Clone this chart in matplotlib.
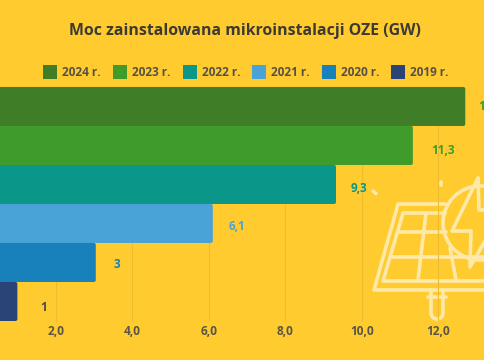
import matplotlib
matplotlib.use("Agg")
import matplotlib.pyplot as plt
from matplotlib.patches import FancyBboxPatch, Rectangle, Circle, Arc
from matplotlib.transforms import Affine2D

years = ["2024 r.", "2023 r.", "2022 r.", "2021 r.", "2020 r.", "2019 r."]
values = [12.7, 11.33, 9.32, 6.1, 3.04, 0.99]
value_labels = ["12,7", "11,3", "9,3", "6,1", "3", "1"]
colors = ["#3f7d26", "#3f9c2b", "#0a9688", "#4aa3d6", "#1880bb", "#2a4478"]
label_colors = ["#3f9c2b", "#3f9c2b", "#0a9688", "#4aa3d6", "#1880bb", "#4a4a4a"]
xticks = [2, 4, 6, 8, 10, 12]
xticklabels = ["2,0", "4,0", "6,0", "8,0", "10,0", "12,0"]

bg = "#ffcb2f"
plt.rcParams["font.family"] = ["Open Sans", "DejaVu Sans"]

fig = plt.figure(figsize=(4.85, 3.6), dpi=100, facecolor=bg)
ax = fig.add_axes([0, 0, 1, 1], facecolor="none")
ax.set_xlim(20.5 / 38.25, 505.5 / 38.25)
ax.set_ylim(6.5, -2.73)  # bar slots are 39 px high
for s in ax.spines.values():
    s.set_visible(False)
ax.tick_params(left=False, bottom=False, labelleft=False, labelbottom=False)

# pixel coords, y down, for the decoration
px = Affine2D().scale(1, -1).translate(0, 360)

# icon
ic = "#ffe9a8"
lw = 2.6
icon_lines = [
    [(445, 204), (398, 204), (374, 290), (485, 290)],
    [(445, 213), (403, 213), (383, 281), (485, 281)],
    [(398, 232), (446, 232)],
    [(392, 257), (485, 257)],
    [(426, 213), (418, 280)],
    [(450, 248), (456, 280)],
    [(478, 178), (452, 231), (471, 231), (470, 267), (485, 241)],
    [(478, 178), (479, 210), (485, 210)],
    [(431, 290), (431, 313)],
    [(443, 290), (443, 313)],
    [(428, 297), (446, 297)],
    [(441, 182), (441, 185)],
    [(373, 191), (376, 193.5)],
]
for pts in icon_lines:
    xs, ys = zip(*pts)
    ax.plot(xs, ys, color=ic, lw=lw, transform=px, solid_capstyle="round",
            solid_joinstyle="round", zorder=1)
ax.add_patch(Circle((480, 223), 37, fill=False, ec=ic, lw=lw, transform=px, zorder=1))
ax.add_patch(Arc((437, 313), 12, 12, theta1=0, theta2=180, ec=ic, lw=lw, transform=px, zorder=1))

ax.vlines(xticks, -0.5, 5.5, color="#edbd2f", lw=0.8, zorder=2)

for i, (v, c) in enumerate(zip(values, colors)):
    ax.add_patch(FancyBboxPatch((-2, i - 0.5), v + 2, 1, boxstyle="round,pad=0,rounding_size=0.05",
                                mutation_aspect=1, fc=c, ec="none", zorder=3))

# labels don't sit exactly on the bar centres in the original
gap_x = [13, 18, 15, 16, 18, 23]
gap_y = [0, 5, 4, 3, 2, 6]
for i, (v, t, c) in enumerate(zip(values, value_labels, label_colors)):
    ax.text(v + gap_x[i] / 38.25, i + gap_y[i] / 39, t, color=c, fontsize=8.5, fontweight="bold",
            va="center", ha="left", zorder=4)

for x, t in zip(xticks, xticklabels):
    ax.text(x, 5.78, t, color="#5a5548", fontsize=8.6, fontweight="bold", ha="center", va="center", zorder=4)

ax.text(245, 31, "Moc zainstalowana mikroinstalacji OZE (GW)", transform=px, color="#3d3a34",
        fontsize=11.45, fontweight="bold", ha="center", va="center")

leg_x = [43, 113, 182.5, 252, 322, 391]
for x, y, c in zip(leg_x, years, colors):
    ax.add_patch(Rectangle((x, 65), 14, 14, transform=px, fc=c, ec="none"))
    ax.text(x + 19, 72, y, transform=px, color="#565148", fontsize=8.5, fontweight="bold", ha="left", va="center")

fig.savefig("out.png", dpi=100, facecolor=bg)
